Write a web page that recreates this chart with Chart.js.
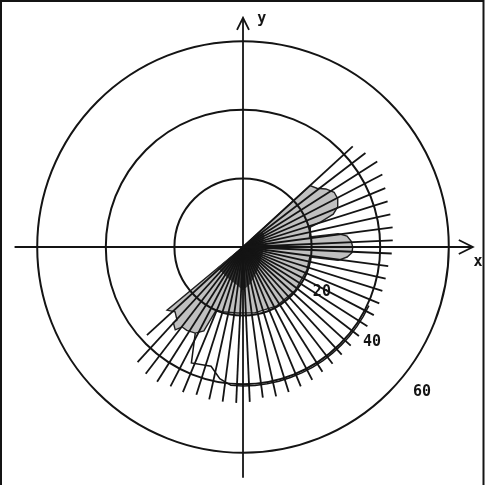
<!DOCTYPE html>
<html>
<head>
<meta charset="utf-8">
<script src="https://cdn.jsdelivr.net/npm/chart.js@4.4.1/dist/chart.umd.min.js"></script>
<style>
  html, body { margin: 0; padding: 0; background: #ffffff; }
  canvas { display: block; }
</style>
</head>
<body>
<canvas id="c" width="495" height="485"></canvas>
<script>
// ---- data (angles in degrees, radii in plot units) ----
const ringValues = [20, 40, 60];
const ringLabels = ['20', '40', '60'];
const axisLabels = ['x', 'y'];

const rayAngles = [42.5, 37.5, 32.5, 27.5, 22.5, 17.5, 12.5, 7.5, 2.5, -2.5,
  -7.5, -12.5, -17.5, -22.5, -27.5, -32.5, -37.5, -42.5, -47.5, -52.5,
  -57.5, -62.5, -67.5, -72.5, -77.5, -82.5, -87.5, -92.5, -97.5, -102.5,
  -107.5, -112.5, -117.5, -122.5, -127.5, -132.5, -137.5];
const rayLengths = [43.4, 45.0, 46.4, 45.8, 44.9, 44.2, 44.0, 44.0, 43.7, 43.4,
  42.7, 42.6, 42.6, 43.0, 43.0, 43.0, 42.6, 42.6, 42.6, 42.9,
  43.1, 43.7, 44.0, 44.3, 44.6, 44.3, 45.2, 45.5, 45.5, 45.5,
  45.2, 45.8, 45.8, 46.6, 46.6, 45.5, 38.0];

const fillAngles = [42.5, 42.5, 38.5, 35, 31, 27, 23, 20, 18, 16.5,
  12, 8.5, 8, 6, 3, 0, -3, -5.5, -8, -8.5,
  -20, -40, -60, -80, -95, -108, -113, -115, -119, -124,
  -127.3, -129.3, -132.6, -132.1, -136.3, -140.3, -140.5];
const fillRadii = [0, 26.5, 27.5, 29.5, 31, 31, 30, 28, 24, 20.5,
  20, 19.6, 28, 30.5, 31.6, 32, 31.8, 30.5, 28, 19.7,
  19.8, 19.8, 19.8, 19.5, 19.3, 19.8, 20, 27, 28.7, 29.3,
  29.3, 31.2, 30, 28.7, 27.4, 28.8, 0];

const coreAngles = [42.5, 38, 30, 15, 4, 2, 0, -3, -30, -60, -80, -90, -100, -115, -130, -140.5, -140.5];
const coreRadii  = [0, 7, 7, 6, 6, 11.5, 11.5, 6, 6, 8, 11, 12.5, 11, 10, 9.5, 9.5, 0];

const envAngles = [-119, -114, -105, -100, -95, -90, -85, -80, -75, -70, -65, -60, -55, -50, -45, -40, -35, -30, -25];
const envRadii  = [28.7, 37, 36, 39, 40.5, 40.5, 40.5, 40.5, 40.5, 40.5, 40.5, 40.5, 40.5, 40.5, 40.5, 40.5, 40.5, 40.5, 40.5];

// ---- helpers ----
const toXY = (r, deg) => ({ x: r * Math.cos(deg * Math.PI / 180), y: r * Math.sin(deg * Math.PI / 180) });

const datasets = [];
rayAngles.forEach((a, i) => {
  datasets.push({
    data: [{ x: 0, y: 0 }, toXY(rayLengths[i], a)],
    showLine: true, borderColor: '#141414', borderWidth: 1.8,
    pointRadius: 0, fill: false, order: 0
  });
});
datasets.push({
  data: envAngles.map((a, i) => toXY(envRadii[i], a)),
  showLine: true, borderColor: '#141414', borderWidth: 1.5,
  pointRadius: 0, fill: false, order: 1
});
datasets.push({
  data: coreAngles.map((a, i) => toXY(coreRadii[i], a)),
  showLine: true, borderColor: '#333', borderWidth: 1,
  backgroundColor: '#3a3a3a', pointRadius: 0, fill: 'shape', order: 2
});
datasets.push({
  data: fillAngles.map((a, i) => toXY(fillRadii[i], a)),
  showLine: true, borderColor: '#222', borderWidth: 1.4,
  backgroundColor: '#c0c0c0', pointRadius: 0, fill: 'shape', order: 3
});

const decor = {
  id: 'polarDecor',
  afterDatasetsDraw(chart) {
    const ctx = chart.ctx;
    const xs = chart.scales.x, ys = chart.scales.y;
    const px = v => xs.getPixelForValue(v), py = v => ys.getPixelForValue(v);
    const cx = px(0), cy = py(0);
    ctx.save();
    ctx.strokeStyle = '#141414';
    ctx.lineWidth = 2;
    ringValues.forEach(v => {
      const rp = px(v) - cx;
      ctx.beginPath();
      ctx.arc(cx, cy, rp, 0, Math.PI * 2);
      ctx.stroke();
    });
    // axes
    ctx.lineWidth = 1.8;
    const x0 = px(-66.6), x1 = px(67.0);
    const y0 = py(-67.3), y1 = py(66.8);
    ctx.beginPath();
    ctx.moveTo(x0, cy); ctx.lineTo(x1, cy);
    ctx.moveTo(cx, y0); ctx.lineTo(cx, y1);
    ctx.stroke();
    // arrow heads (open)
    ctx.beginPath();
    ctx.moveTo(x1 - 14, cy - 7); ctx.lineTo(x1, cy); ctx.lineTo(x1 - 14, cy + 7);
    ctx.moveTo(cx - 6, y1 + 12); ctx.lineTo(cx, y1); ctx.lineTo(cx + 6, y1 + 12);
    ctx.stroke();
    // labels
    ctx.fillStyle = '#141414';
    ctx.textAlign = 'center';
    ctx.textBaseline = 'middle';
    ctx.font = 'bold 15px "DejaVu Sans Mono", "Liberation Mono", monospace';
    const ringLabelPos = [[23.0, -13.1], [37.6, -27.7], [52.2, -42.3]];
    ringLabels.forEach((t, i) => ctx.fillText(t, px(ringLabelPos[i][0]), py(ringLabelPos[i][1])));
    ctx.font = 'bold 15px "DejaVu Sans Mono", "Liberation Mono", monospace';
    ctx.fillText(axisLabels[0], px(68.5), py(-4.4));
    ctx.fillText(axisLabels[1], px(5.5), py(66.5));
    ctx.restore();
  },
  afterDraw(chart) {
    const ctx = chart.ctx;
    ctx.save();
    ctx.strokeStyle = '#141414';
    ctx.lineWidth = 2;
    ctx.beginPath();
    ctx.moveTo(1, chart.height); ctx.lineTo(1, 1); ctx.lineTo(483.5, 1); ctx.lineTo(483.5, chart.height);
    ctx.stroke();
    ctx.restore();
  }
};

new Chart(document.getElementById('c'), {
  type: 'scatter',
  data: { datasets },
  options: {
    responsive: false,
    devicePixelRatio: 1,
    animation: false,
    layout: { padding: 0 },
    plugins: { legend: { display: false }, tooltip: { enabled: false } },
    scales: {
      x: { type: 'linear', display: false, min: -70.85, max: 73.47 },
      y: { type: 'linear', display: false, min: -69.39, max: 72.01 }
    }
  },
  plugins: [decor]
});
</script>
</body>
</html>
